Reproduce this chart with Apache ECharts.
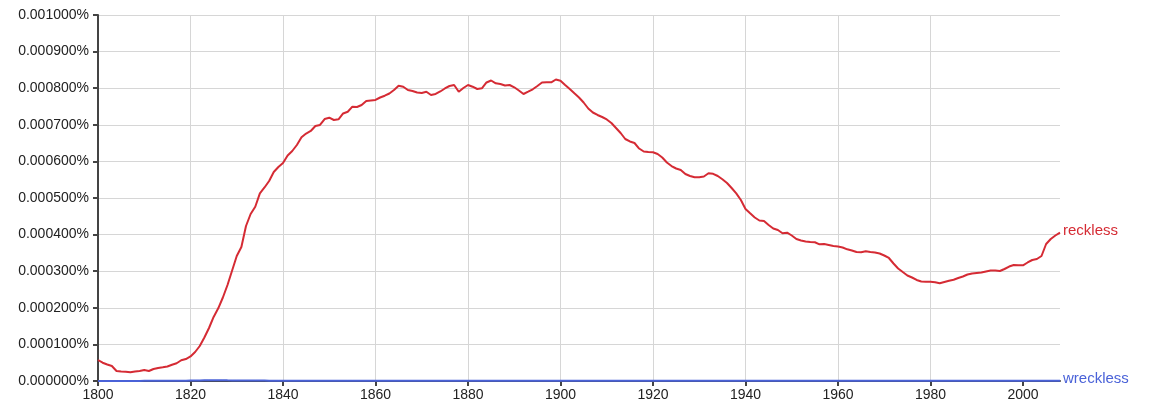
<!DOCTYPE html>
<html>
<head>
<meta charset="utf-8">
<style>
  html, body { margin: 0; padding: 0; background: #fff; }
  #chart { width: 1166px; height: 415px; }
</style>
<script src="https://cdn.jsdelivr.net/npm/echarts@6/dist/echarts.min.js"></script>
</head>
<body>
<div id="chart"></div>
<script>
// yearly frequency, in percent of all words (1800..2008)
const startYear = 1800;
const endYear = 2008;

const reckless = [
  57.4e-6, 50.0e-6, 45.0e-6, 41.0e-6, 27.3e-6, 26.0e-6, 25.4e-6, 23.8e-6, 26.0e-6, 27.3e-6, // 1800
  30.0e-6, 27.3e-6, 32.8e-6, 35.5e-6, 37.4e-6, 39.6e-6, 44.3e-6, 48.4e-6, 56.6e-6, 60.1e-6, // 1810
  67.0e-6, 79.2e-6, 95.6e-6, 118.9e-6, 144.8e-6, 174.9e-6, 198.6e-6, 228.1e-6, 262.3e-6, 301.9e-6, // 1820
  341.5e-6, 366.1e-6, 423.5e-6, 456.3e-6, 476.2e-6, 512.8e-6, 528.7e-6, 546.4e-6, 571.0e-6, 584.7e-6, // 1830
  595.6e-6, 616.1e-6, 628.4e-6, 644.8e-6, 665.8e-6, 676.2e-6, 683.1e-6, 696.7e-6, 699.5e-6, 715.8e-6, // 1840
  719.4e-6, 713.1e-6, 715.0e-6, 730.9e-6, 735.8e-6, 749.5e-6, 748.6e-6, 754.1e-6, 765.0e-6, 766.4e-6, // 1850
  767.8e-6, 774.6e-6, 779.5e-6, 785.5e-6, 795.1e-6, 806.8e-6, 804.1e-6, 795.1e-6, 792.3e-6, 788.3e-6, // 1860
  786.9e-6, 790.4e-6, 781.4e-6, 784.2e-6, 791.0e-6, 799.2e-6, 806.0e-6, 808.7e-6, 790.4e-6, 800.5e-6, // 1870
  808.7e-6, 804.1e-6, 797.8e-6, 799.7e-6, 815.6e-6, 821.0e-6, 813.4e-6, 811.5e-6, 807.4e-6, 808.7e-6, // 1880
  802.5e-6, 793.7e-6, 784.2e-6, 790.4e-6, 797.0e-6, 806.0e-6, 815.6e-6, 816.1e-6, 816.1e-6, 823.8e-6, // 1890
  820.5e-6, 808.7e-6, 797.8e-6, 786.1e-6, 774.6e-6, 760.9e-6, 744.5e-6, 733.6e-6, 726.8e-6, 721.3e-6, // 1900
  714.5e-6, 704.9e-6, 691.3e-6, 677.6e-6, 661.2e-6, 654.4e-6, 650.3e-6, 635.2e-6, 627.0e-6, 625.7e-6, // 1910
  624.9e-6, 620.2e-6, 610.7e-6, 597.0e-6, 587.4e-6, 580.6e-6, 576.5e-6, 565.6e-6, 560.1e-6, 556.6e-6, // 1920
  556.6e-6, 558.7e-6, 567.5e-6, 566.1e-6, 560.1e-6, 551.1e-6, 541.0e-6, 527.3e-6, 512.8e-6, 494.5e-6, // 1930
  469.9e-6, 458.2e-6, 446.7e-6, 438.5e-6, 437.2e-6, 426.2e-6, 416.7e-6, 412.6e-6, 403.6e-6, 405.2e-6, // 1940
  397.5e-6, 388.0e-6, 383.9e-6, 381.1e-6, 379.8e-6, 379.0e-6, 373.5e-6, 374.3e-6, 371.6e-6, 368.9e-6, // 1950
  367.5e-6, 364.8e-6, 359.8e-6, 356.6e-6, 352.5e-6, 351.6e-6, 354.4e-6, 352.5e-6, 351.1e-6, 348.4e-6, // 1960
  342.9e-6, 336.1e-6, 321.0e-6, 307.4e-6, 297.8e-6, 288.3e-6, 282.8e-6, 276.0e-6, 271.9e-6, 271.3e-6, // 1970
  271.0e-6, 269.9e-6, 266.9e-6, 270.5e-6, 273.8e-6, 276.8e-6, 281.4e-6, 285.5e-6, 291.0e-6, 293.7e-6, // 1980
  295.1e-6, 296.4e-6, 299.2e-6, 301.9e-6, 301.9e-6, 300.5e-6, 306.0e-6, 312.8e-6, 316.9e-6, 316.1e-6, // 1990
  316.1e-6, 323.8e-6, 330.6e-6, 333.3e-6, 341.5e-6, 374.3e-6, 388.0e-6, 397.5e-6, 405.2e-6           // 2000
];

const wreckless = [
  0.3e-6, 0.3e-6, 0.3e-6, 0.3e-6, 0.3e-6, 0.3e-6, 0.3e-6, 0.3e-6, 0.3e-6, 0.3e-6, // 1800
  0.4e-6, 0.4e-6, 0.4e-6, 0.4e-6, 0.5e-6, 0.5e-6, 0.6e-6, 0.7e-6, 0.8e-6, 1.0e-6, // 1810
  1.2e-6, 1.4e-6, 1.6e-6, 1.8e-6, 2.0e-6, 2.2e-6, 2.2e-6, 2.0e-6, 1.8e-6, 1.7e-6, // 1820
  1.6e-6, 1.5e-6, 1.4e-6, 1.4e-6, 1.3e-6, 1.2e-6, 1.1e-6, 1.0e-6, 0.9e-6, 0.8e-6, // 1830
  0.7e-6, 0.7e-6, 0.6e-6, 0.6e-6, 0.6e-6, 0.5e-6, 0.5e-6, 0.5e-6, 0.5e-6, 0.6e-6, // 1840
  0.7e-6, 0.8e-6, 0.8e-6, 0.8e-6, 0.7e-6, 0.6e-6, 0.5e-6, 0.5e-6, 0.5e-6, 0.5e-6, // 1850
  0.5e-6, 0.5e-6, 0.4e-6, 0.4e-6, 0.4e-6, 0.4e-6, 0.4e-6, 0.4e-6, 0.4e-6, 0.4e-6, // 1860
  0.4e-6, 0.4e-6, 0.4e-6, 0.4e-6, 0.4e-6, 0.4e-6, 0.4e-6, 0.4e-6, 0.4e-6, 0.4e-6, // 1870
  0.4e-6, 0.4e-6, 0.4e-6, 0.4e-6, 0.4e-6, 0.4e-6, 0.4e-6, 0.4e-6, 0.4e-6, 0.4e-6, // 1880
  0.4e-6, 0.4e-6, 0.4e-6, 0.4e-6, 0.4e-6, 0.4e-6, 0.4e-6, 0.4e-6, 0.4e-6, 0.4e-6, // 1890
  0.4e-6, 0.4e-6, 0.4e-6, 0.4e-6, 0.4e-6, 0.4e-6, 0.4e-6, 0.4e-6, 0.4e-6, 0.4e-6, // 1900
  0.4e-6, 0.4e-6, 0.4e-6, 0.4e-6, 0.4e-6, 0.4e-6, 0.4e-6, 0.4e-6, 0.4e-6, 0.4e-6, // 1910
  0.4e-6, 0.4e-6, 0.4e-6, 0.4e-6, 0.4e-6, 0.4e-6, 0.4e-6, 0.4e-6, 0.4e-6, 0.4e-6, // 1920
  0.4e-6, 0.4e-6, 0.4e-6, 0.4e-6, 0.4e-6, 0.4e-6, 0.4e-6, 0.4e-6, 0.4e-6, 0.4e-6, // 1930
  0.4e-6, 0.4e-6, 0.4e-6, 0.4e-6, 0.4e-6, 0.4e-6, 0.4e-6, 0.4e-6, 0.4e-6, 0.4e-6, // 1940
  0.4e-6, 0.4e-6, 0.4e-6, 0.4e-6, 0.4e-6, 0.4e-6, 0.4e-6, 0.4e-6, 0.4e-6, 0.4e-6, // 1950
  0.4e-6, 0.4e-6, 0.4e-6, 0.4e-6, 0.4e-6, 0.4e-6, 0.4e-6, 0.4e-6, 0.4e-6, 0.4e-6, // 1960
  0.4e-6, 0.4e-6, 0.4e-6, 0.4e-6, 0.4e-6, 0.4e-6, 0.4e-6, 0.4e-6, 0.4e-6, 0.4e-6, // 1970
  0.4e-6, 0.4e-6, 0.4e-6, 0.4e-6, 0.4e-6, 0.4e-6, 0.4e-6, 0.4e-6, 0.4e-6, 0.4e-6, // 1980
  0.4e-6, 0.4e-6, 0.4e-6, 0.4e-6, 0.4e-6, 0.4e-6, 0.4e-6, 0.4e-6, 0.4e-6, 0.4e-6, // 1990
  0.4e-6, 0.4e-6, 0.4e-6, 0.4e-6, 0.4e-6, 0.4e-6, 0.4e-6, 0.4e-6, 0.4e-6          // 2000
];

const years = [];
for (let y = startYear; y <= endYear; y++) years.push(y);

const xTickYears = [1800, 1820, 1840, 1860, 1880, 1900, 1920, 1940, 1960, 1980, 2000];

const redColor = '#d52b34';
const blueColor = '#4a62d8';
const font = '"Liberation Sans", Arial, sans-serif';

const chart = echarts.init(document.getElementById('chart'), null, { renderer: 'canvas' });

chart.setOption({
  animation: false,
  grid: { left: 98, right: 106, top: 15, bottom: 34, containLabel: false },
  xAxis: {
    type: 'value',
    min: startYear,
    max: endYear,
    interval: 20,
    axisLine: { show: true, onZero: false, lineStyle: { color: '#444', width: 2 } },
    axisTick: { show: true, length: 5, lineStyle: { color: '#444', width: 2 }, customValues: xTickYears },
    axisLabel: {
      customValues: xTickYears,
      color: '#222', fontSize: 14, fontFamily: font, margin: 7,
      formatter: v => String(v)
    },
    splitLine: { show: true, showMinLine: false, showMaxLine: false, lineStyle: { color: '#d6d6d6', width: 1 } }
  },
  yAxis: {
    type: 'value',
    min: 0,
    max: 0.001,
    interval: 0.0001,
    axisLine: { show: true, lineStyle: { color: '#444', width: 2 } },
    axisTick: { show: true, length: 5, lineStyle: { color: '#444', width: 2 } },
    axisLabel: {
      color: '#222', fontSize: 14, fontFamily: font, margin: 9,
      formatter: v => v.toFixed(6) + '%'
    },
    splitLine: { show: true, showMinLine: false, lineStyle: { color: '#d6d6d6', width: 1 } }
  },
  series: [
    {
      name: 'reckless',
      type: 'line',
      data: years.map((y, i) => [y, reckless[i]]),
      showSymbol: false,
      symbol: 'none',
      lineStyle: { color: redColor, width: 2 },
      itemStyle: { color: redColor },
      z: 3,
      endLabel: {
        show: true, formatter: '{a}', color: redColor,
        fontSize: 15, fontFamily: font, distance: 3, offset: [0, -2]
      }
    },
    {
      name: 'wreckless',
      type: 'line',
      data: years.map((y, i) => [y, wreckless[i]]),
      showSymbol: false,
      symbol: 'none',
      lineStyle: { color: blueColor, width: 2 },
      itemStyle: { color: blueColor },
      z: 4,
      endLabel: {
        show: true, formatter: '{a}', color: blueColor,
        fontSize: 15, fontFamily: font, distance: 3, offset: [0, -2]
      }
    }
  ]
});
</script>
</body>
</html>
